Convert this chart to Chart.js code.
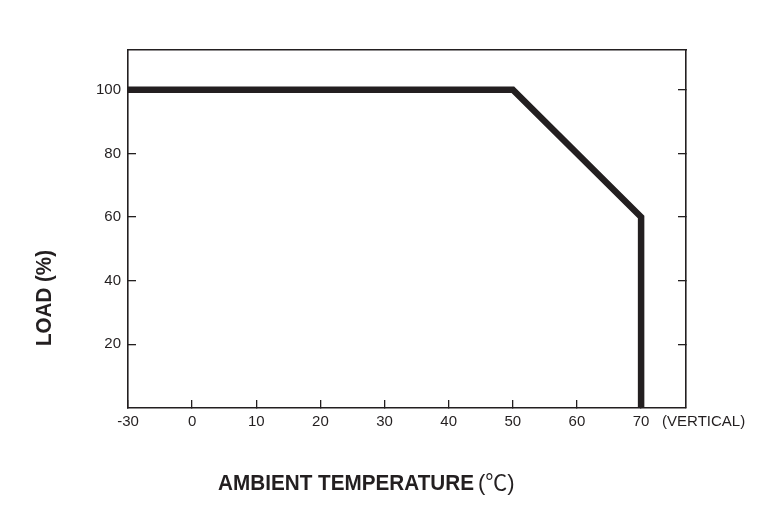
<!DOCTYPE html>
<html>
<head>
<meta charset="utf-8">
<script src="https://cdn.jsdelivr.net/npm/chart.js@4.4.1/dist/chart.umd.min.js"></script>
<style>
  html, body { margin: 0; padding: 0; background: #fff; }
</style>
</head>
<body>
<canvas id="deratingChart" width="770" height="514"></canvas>
<script>
// derating curve: ambient temperature vs load
const temps = [-30, 50, 70, 70];
const loads = [100, 100, 60, 0];
const xTicks = [-30, 0, 10, 20, 30, 40, 50, 60, 70];
const yTicks = [20, 40, 60, 80, 100];

// the temperature axis is broken: -30 sits one step left of 0
const axisPos = t => (t < 0 ? -10 : t);

const ink = '#231f20';
const labelFont = { family: "'Liberation Sans', Arial, sans-serif", size: 15 };

const titles = {
  id: 'titles',
  afterDraw(chart) {
    const c = chart.ctx;
    const xs = chart.scales.x;
    c.save();
    c.fillStyle = ink;
    c.textBaseline = 'middle';
    c.textAlign = 'left';

    c.font = "15px 'Liberation Sans', Arial, sans-serif";
    c.fillText('(VERTICAL)', xs.getPixelForValue(70) + 21, 422);

    c.textBaseline = 'alphabetic';
    c.font = "bold 22px 'Liberation Sans', Arial, sans-serif";
    c.fillText('AMBIENT TEMPERATURE', 218, 489.5, 256);
    c.font = "22px 'Liberation Sans', 'Noto Sans CJK JP', sans-serif";
    c.fillText('(℃)', 478, 489.5, 38);

    c.translate(51, 298);
    c.rotate(-Math.PI / 2);
    c.textAlign = 'center';
    c.font = "bold 22px 'Liberation Sans', Arial, sans-serif";
    c.fillText('LOAD (%)', 0, 0, 96);
    c.restore();
  }
};

const inwardGrid = { drawOnChartArea: false, tickLength: -8, color: ink, lineWidth: 1.3 };
const frame = { display: true, color: ink, width: 1.6 };

new Chart(document.getElementById('deratingChart'), {
  type: 'line',
  data: {
    datasets: [{
      data: temps.map((t, i) => ({ x: axisPos(t), y: loads[i] })),
      borderColor: ink,
      borderWidth: 6.5,
      borderJoinStyle: 'miter',
      borderCapStyle: 'butt',
      pointRadius: 0,
      tension: 0,
      fill: false
    }]
  },
  options: {
    responsive: false,
    animation: false,
    layout: { padding: 0 },
    plugins: { legend: { display: false }, tooltip: { enabled: false } },
    scales: {
      x: {
        type: 'linear',
        position: 'bottom',
        min: -10,
        max: 77,
        afterBuildTicks: s => { s.ticks = xTicks.map(t => ({ value: axisPos(t) })); },
        afterFit: s => { s.height = 106; },
        ticks: {
          color: ink,
          font: labelFont,
          padding: 13,
          maxRotation: 0,
          autoSkip: false,
          callback: (v, i) => String(xTicks[i])
        },
        grid: inwardGrid,
        border: frame
      },
      xTop: {
        type: 'linear',
        position: 'top',
        min: -10,
        max: 77,
        afterFit: s => { s.height = 50; },
        ticks: { display: false },
        grid: { drawOnChartArea: false, drawTicks: false },
        border: frame
      },
      y: {
        type: 'linear',
        position: 'left',
        min: 0,
        max: 112.5,
        afterBuildTicks: s => { s.ticks = yTicks.map(v => ({ value: v })); },
        afterFit: s => { s.width = 128; },
        ticks: { color: ink, font: labelFont, padding: 15 },
        grid: inwardGrid,
        border: frame
      },
      yRight: {
        type: 'linear',
        position: 'right',
        min: 0,
        max: 112.5,
        afterBuildTicks: s => { s.ticks = yTicks.map(v => ({ value: v })); },
        afterFit: s => { s.width = 84; },
        ticks: { display: false },
        grid: inwardGrid,
        border: frame
      }
    }
  },
  plugins: [titles]
});
</script>
</body>
</html>
